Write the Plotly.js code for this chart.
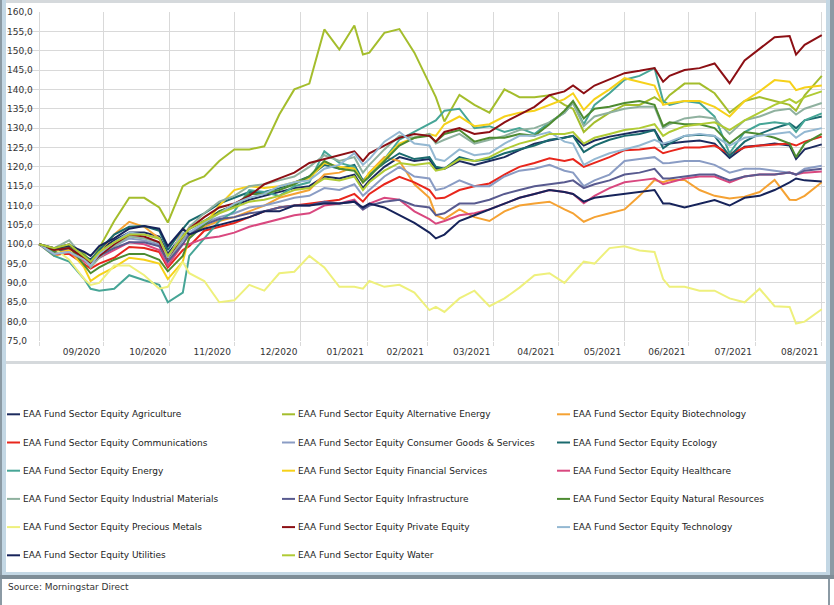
<!DOCTYPE html>
<html><head><meta charset="utf-8">
<script src="https://cdn.plot.ly/plotly-3.0.1.min.js"></script>
<style>html,body{margin:0;padding:0;background:#fff;}#chart{width:834px;height:605px;}</style>
</head><body><div id="chart"></div>
<script>
const dates = ["2020-08-31","2020-09-07","2020-09-14","2020-09-21","2020-09-24","2020-09-28","2020-10-05","2020-10-12","2020-10-19","2020-10-26",
"2020-10-30","2020-11-06","2020-11-09","2020-11-16","2020-11-23","2020-11-30","2020-12-07","2020-12-14","2020-12-21","2020-12-28",
"2021-01-04","2021-01-11","2021-01-18","2021-01-25","2021-01-29","2021-02-01","2021-02-08","2021-02-15","2021-02-22","2021-03-01",
"2021-03-04","2021-03-08","2021-03-15","2021-03-22","2021-03-29","2021-04-05","2021-04-12","2021-04-19","2021-04-26","2021-05-03",
"2021-05-07","2021-05-12","2021-05-17","2021-05-24","2021-05-31","2021-06-07","2021-06-14","2021-06-18","2021-06-21","2021-06-28",
"2021-07-05","2021-07-12","2021-07-19","2021-07-26","2021-08-02","2021-08-09","2021-08-16","2021-08-19","2021-08-23","2021-08-31"];

const agriculture = [100,99,100,97,96,98.5,101,103,103,102, 97.5,102.5,104,106,108.5,110,111.5,112.5,113.5,114.5, 115,117.5,117,118,114.5,116.5,120,122.5,121.5,122, 119.5,119.5,121.5,120.5,121.5,122.5,124.3,126,126.8,127.5, 128,125.5,126.8,127.8,128.6,129.2,129.5,125.8,126,126.5, 126.8,126,122.3,125.2,125.5,126,125.5,122,124.5,125.8];
const alternativeEnergy = [100,98.5,99.5,97.5,95.5,99,106,112,112,109.5, 105.6,115,116,117.5,121.5,124.5,124.5,125.3,133.5,140, 141.5,155.5,150.3,156.5,149,149.5,154.6,155.6,149.5,141.5, 138,131.7,138.6,136,134,140,138,138,138.5,136, 135,129,131.5,134,136,136,138,136.5,138.5,141.5, 141.5,139,134,137,138,137,136,134.5,138.5,143.5];
const biotechnology = [100,97,98,96.5,95.5,98,102.5,105.8,104.5,101.5, 95.5,104,102.5,104.5,106,107,108.5,110,112,113, 114,118,118.5,120,116,118.5,122.5,121.5,115.5,112, 107.5,106.5,109,107,106,108.5,110,110.5,111,109, 108,105.8,107,108,109,112.5,116.6,116,116.6,116.6, 114,112.5,111.8,112.3,113.5,116.6,111.5,111.4,112.5,116];
const communications = [100,97.5,97.5,95,93.7,95,96.5,99.3,99,98, 94,98.5,99.5,103.5,104.5,105.5,107,108.5,109.5,110, 110.5,111,111.5,113,111,113,115.5,117.4,116,114, 111.8,112,114,115,115.7,118,120,121,122.2,121.5, 122,120,121,122.5,124.3,124.5,125,123.5,124,125, 125,125.5,123.3,125,125.5,125.8,126,125.5,126.5,127.8];
const consumerGoods = [100,98.5,99,96.5,95,97,99.5,101.5,101,100, 95.5,101,103,105.5,107,108,109.5,110,111,112, 112.5,114.5,114,115.5,112.5,114,117.5,120,117.5,117, 114,114.5,116.5,115,115,117.5,119,119.5,120.5,119, 118.5,115,116.5,118,121.5,122,122.5,120.9,121,121.5, 121.5,120.5,118.5,119.5,119.5,119,118.5,118,119.5,120.3];
const ecology = [100,98.8,99.8,97,95.8,98.5,102.5,104.5,104.7,103.5, 98.5,104,106,108,110.5,112,113.5,113.5,114.5,116, 117.5,120.5,119.5,120.5,116.5,118,121,123.5,122,122.5, 120,119.5,122.5,121.5,122,123.5,124.5,125.5,127,127.5, 128,123.8,125.5,127,128,128.5,129.5,124.8,126,128, 128.3,128,122.8,126.5,128.5,130,131.2,130,132,133];
const energy = [100,97,95.5,91,88.5,88,88.5,92,90.7,89.5, 85,87.5,97,101.5,106,108.5,114,113.5,112.5,115, 116,124,121,120,116,117.5,122,127,129,131, 132,134.5,135,130,130.5,129,130,128.5,131.5,134, 136.5,131,136,139,142.5,143.5,145.5,137,136,137, 136.5,133,123.5,129,131,131.5,131,129,132,133.8];
const financialServices = [100,98,98.5,94,90.5,92,94,96.5,96,95, 91,95.5,102,105,110,114,115,114.5,115,116, 117,121,120,119.5,116,118.5,122,126,127.5,128.5, 128,131,133,130.5,131,133,134,134.5,136,137.5, 139,134.7,137.5,140,142.9,142,141,136,136.4,137, 137,135.5,133,137,139.5,142.4,142,139.8,140.5,141];
const healthcare = [100,97.5,98,95.5,94.5,96.5,98.5,100.5,100,98.5, 94.5,100,100,101.5,102,103,104.5,105.5,106.5,107.5, 108,110,110.5,111.5,109,110.5,112,111.5,108.5,106.5, 105.3,106,107.5,108,109,110.5,112,113,114,113.5, 113,110.6,112.5,114.5,116,116.5,117,115.5,116,117, 117.5,117.5,116,117.5,118,118,118.5,118,118.5,118.8];
const industrialMaterials = [100,99,101,96.5,94,96.5,99.5,102,101.5,100.5, 96,101.5,104.5,108,111,112.5,115,115.5,116.5,117.5, 120,123,121.5,122.5,118.5,120.5,124.5,128,127.5,128.5, 126,127,128.5,126,127,128,129.5,130,131.5,134, 136.5,130.5,133,134,135,135.5,135.5,130,131,132.5, 133,132.5,128.5,132,133,134.5,135,133.5,135,136.5];
const infrastructure = [100,98,99,96.5,95,97,99,100.5,100.5,99.5, 95.5,100,102.5,105,106.5,107,108,108.5,109.5,110, 110,111,110.5,111,109,110,111,111.5,110,109.5, 107.5,108,110.5,110.5,111.5,113,114,115,115.5,116, 116.5,114.5,115.5,116.5,118,118.5,119.5,117,117,117.5, 118,118,116.5,117.5,118,118,118.5,118,119,119.5];
const naturalResources = [100,98,99.5,94.5,92.5,94,96,97.5,97.5,96, 93,97,101.5,105,108.5,110,113,113,114,115.5, 117.5,121.5,119.5,119,116,117.5,121.5,125.5,127.5,128, 126.5,128.5,129.5,126.5,127.5,127.5,128.5,128,131,134.5, 137,132.5,135,135.5,136.5,137,136,130.5,131.5,131, 131,130,126,129,128.5,127.5,126,122.5,126,128.5];
const preciousMetals = [100,99,96,91,89.5,90,94.5,94.5,92,88.5, 89,95.5,92.5,90.5,85,85.5,89.5,88,92.5,92.9, 97,94,89,89,88.5,90.5,89,89.5,87.5,83, 83.8,82.5,86,88,84,86,88.8,92,92.5,90, 92.5,95.5,95,99,99.5,98.4,98,91,89,89, 88,88,86,85,88.5,84,83.8,79.5,80,83.2];
const privateEquity = [100,98.5,99,96.5,95,97,100,102.5,102,100.5, 96.5,102,104,107,109.5,110.5,112.5,115.5,117,118.5, 121,122,123,124,121.5,123.5,125.5,127.5,128.5,128, 126.5,129,130,128.5,129,131.5,133.5,135.5,138.5,139.5, 141,139,141,142.5,144.2,144.8,145.5,142,143.5,145, 145.5,146.7,141.6,147.5,150.5,153.5,153.8,149,151.5,154];
const technology = [100,97.5,98,96,94.5,97.5,100.5,103,102.5,101.5, 96.5,103,103,105.5,108,110.5,112,113,115,116, 116.5,119.5,120.5,123.5,120.5,122,126.5,129,126,125.5, 122,121.5,124.5,123,123.5,126,128,128,129,126.5, 126,120.5,122,123.5,124.5,125.5,127,126,126.5,128, 128.5,128,125.5,127.5,128,128.5,129,127.5,129,130];
const utilities = [100,99,99.7,98,97,99.5,101.5,104,104.7,104, 99.5,104,102.5,104,105,106,107,108.5,108.5,110, 110,110.5,110.5,111,109.5,110.5,109.5,107.5,105.5,103, 101.5,102.5,106,107.5,109,110.5,112,113,114,113.5, 113,111,112,112.5,113,113.5,114,110.5,110.5,109.5, 110.5,111.4,110,112,112.5,114,116,117,116.5,116.2];
const water = [100,99,100,97,95.5,98,100.5,102.5,102.5,101.5, 97,102,104,106,108,109.5,111,111.5,112.5,114, 114.5,117,116.5,117.5,114,116,119,121,120.5,121, 119,119.5,122,121.5,122.5,124.5,126,127,128.5,128.5, 129,126,127.5,128.5,129.5,130,131,128,129,130.5, 131,131.5,129.5,132,134,136,137.5,136.5,138,139.5];

const seriesNames = ["EAA Fund Sector Equity Agriculture","EAA Fund Sector Equity Alternative Energy","EAA Fund Sector Equity Biotechnology",
"EAA Fund Sector Equity Communications","EAA Fund Sector Equity Consumer Goods & Services","EAA Fund Sector Equity Ecology",
"EAA Fund Sector Equity Energy","EAA Fund Sector Equity Financial Services","EAA Fund Sector Equity Healthcare",
"EAA Fund Sector Equity Industrial Materials","EAA Fund Sector Equity Infrastructure","EAA Fund Sector Equity Natural Resources",
"EAA Fund Sector Equity Precious Metals","EAA Fund Sector Equity Private Equity","EAA Fund Sector Equity Technology",
"EAA Fund Sector Equity Utilities","EAA Fund Sector Equity Water"];
const seriesValues = [agriculture,alternativeEnergy,biotechnology,communications,consumerGoods,ecology,energy,financialServices,healthcare,industrialMaterials,infrastructure,naturalResources,preciousMetals,privateEquity,technology,utilities,water];

const tickDates = ["2020-08-31","2020-09-30","2020-10-31","2020-11-30","2020-12-31","2021-01-31","2021-02-28","2021-03-31","2021-04-30","2021-05-31","2021-06-30","2021-07-31","2021-08-31"];
const tickLabels = ["","09/2020","10/2020","11/2020","12/2020","01/2021","02/2021","03/2021","04/2021","05/2021","06/2021","07/2021","08/2021"];
const sourceText = "Source: Morningstar Direct";

// styles
const seriesColors = ["#1c2b5e","#a4bd2c","#f5a233","#e8261c","#8a9cc4","#1a6a6e","#46a596","#f6d11a","#d9487f","#8fb19f","#585a8f","#4d8b31","#eef07c","#8c0f14","#94b8d2","#16235a","#b0cb34"];
const FONT = "DejaVu Sans, Verdana, sans-serif";
const L = 7, R = 825, T = 12, B = 341;
const px = v => (v - L) / (R - L);
const py = v => (B - v) / (B - T);

const traces = seriesValues.map((vals, i) => ({
  type: "scatter", mode: "lines", x: dates, y: vals, name: seriesNames[i],
  line: {color: seriesColors[i], width: 2}, showlegend: false, hoverinfo: "skip"
}));

const shapes = [];
const annotations = [];
function rect(x0, y0, x1, y1, color) {
  shapes.push({type: "rect", xref: "paper", yref: "paper", x0: px(x0), x1: px(x1), y0: py(y0), y1: py(y1),
    line: {width: 0}, fillcolor: color, layer: "below"});
}
// frame
rect(0, 0, 2, 577, "#8b9aa4");
rect(2, 0, 6, 577, "#c3d7e4");
rect(826, 0, 830, 577, "#c3d7e4");
rect(830, 0, 834, 577, "#8b9aa4");
rect(6, 0, 826, 3, "#d5d9dc");
rect(6, 361, 826, 364, "#d5d9dc");
rect(6, 572, 826, 575, "#c3d7e4");
rect(0, 575, 834, 579, "#7e8d97");
rect(0, 579, 2, 605, "#8b9aa4");
rect(828, 579, 830, 605, "#8b9aa4");

// legend (3 columns, row-major)
const colX = [7, 282, 557];
seriesNames.forEach((n, i) => {
  const c = colX[i % 3];
  const ry = 414.3 + Math.floor(i / 3) * 28.2;
  shapes.push({type: "line", xref: "paper", yref: "paper", x0: px(c), x1: px(c + 13), y0: py(ry), y1: py(ry),
    line: {color: seriesColors[i], width: 2}});
  annotations.push({xref: "paper", yref: "paper", x: px(c + 14), y: py(ry), xanchor: "left", yanchor: "middle",
    text: n, showarrow: false, font: {family: FONT, size: 9, color: "#222"}});
});
annotations.push({xref: "paper", yref: "paper", x: px(6), y: py(587), xanchor: "left", yanchor: "middle",
  text: sourceText, showarrow: false, font: {family: FONT, size: 9, color: "#333"}});

const layout = {
  width: 834, height: 605,
  margin: {l: L, r: 834 - R, t: T, b: 605 - B, pad: 0},
  paper_bgcolor: "#ffffff", plot_bgcolor: "#ffffff",
  separators: ",.",
  showlegend: false,
  font: {family: FONT, size: 9, color: "#333"},
  xaxis: {
    type: "date", range: ["2020-08-16", "2021-09-01 12:00"], fixedrange: true,
    tickmode: "array", tickvals: tickDates, ticktext: tickLabels,
    ticks: "outside", ticklen: 4, tickcolor: "#d9d9d9", tickwidth: 1,
    ticklabelshift: -22, ticklabelstandoff: -2,
    showgrid: true, gridcolor: "#d9d9d9", gridwidth: 1, zeroline: false, showline: false,
    tickfont: {family: FONT, size: 9, color: "#333"}
  },
  yaxis: {
    range: [75, 160], fixedrange: true, tickmode: "linear", tick0: 75, dtick: 5, tickformat: ".1f",
    ticklabelposition: "inside", ticklabeloverflow: "allow", ticks: "", ticklabelstandoff: -3,
    showgrid: true, gridcolor: "#d9d9d9", gridwidth: 1, zeroline: false, showline: false,
    tickfont: {family: FONT, size: 9, color: "#333"}
  },
  shapes: shapes, annotations: annotations
};
Plotly.newPlot("chart", traces, layout, {staticPlot: true, displayModeBar: false});
</script></body></html>
